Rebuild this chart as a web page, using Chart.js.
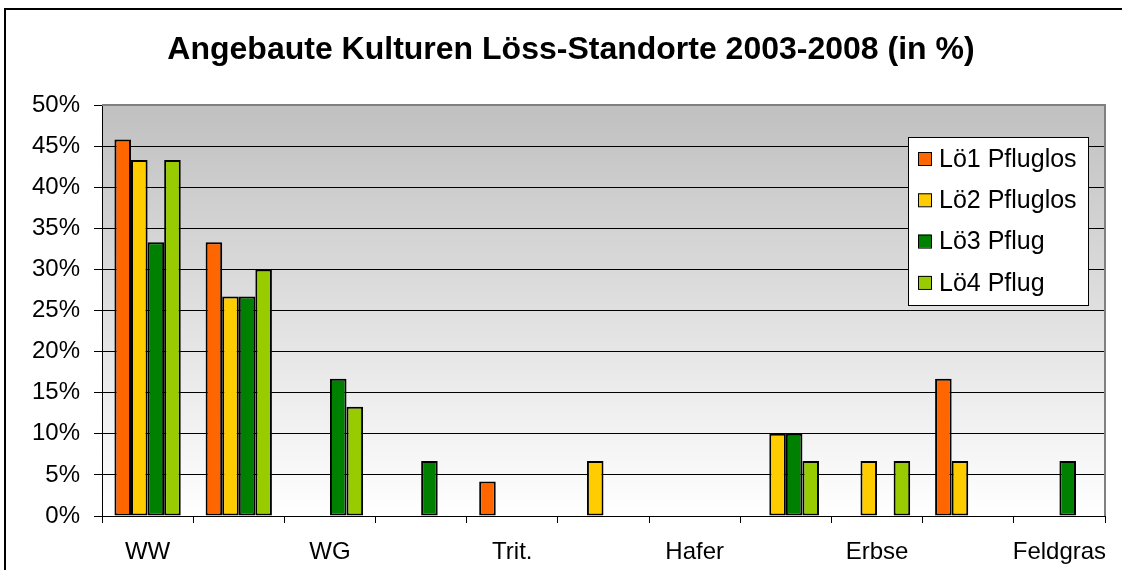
<!DOCTYPE html>
<html>
<head>
<meta charset="utf-8">
<script src="https://cdn.jsdelivr.net/npm/chart.js@4/dist/chart.umd.min.js"></script>
<style>
  body { margin: 0; background: #fff; }
  canvas { display: block; }
</style>
</head>
<body>
<canvas id="cropChart" width="1122" height="570"></canvas>
<script>
// categories (only every second label is shown in the original)
const categories = ['WW', '', 'WG', '', 'Trit.', '', 'Hafer', '', 'Erbse', '', 'Feldgras'];

// share of cultivated crops in %
const loe1Pfluglos = [45.8, 33.3, null, null, 4.2, null, null, null, null, 16.7, null];
const loe2Pfluglos = [43.3, 26.7, null, null, null, 6.7, null, 10.0, 6.7, 6.7, null];
const loe3Pflug    = [33.3, 26.7, 16.7, 6.7, null, null, null, 10.0, null, null, 6.7];
const loe4Pflug    = [43.3, 30.0, 13.3, null, null, null, null, 6.7, 6.7, null, null];

const yTicks = [0, 5, 10, 15, 20, 25, 30, 35, 40, 45, 50];

const titleText = 'Angebaute Kulturen Löss-Standorte 2003-2008 (in %)';
const fontFamily = '"Liberation Sans", Arial, sans-serif';

// background, frame, plot gradient, title and legend box
const excelLook = {
  id: 'excelLook',
  beforeDraw(chart) {
    const ctx = chart.ctx;
    const a = chart.chartArea;
    ctx.save();
    ctx.fillStyle = '#ffffff';
    ctx.fillRect(0, 0, chart.width, chart.height);
    // outer frame
    ctx.strokeStyle = '#000000';
    ctx.lineWidth = 2;
    ctx.beginPath();
    ctx.moveTo(5, chart.height);
    ctx.lineTo(5, 9);
    ctx.lineTo(chart.width, 9);
    ctx.stroke();
    // plot area gradient
    const grad = ctx.createLinearGradient(0, a.top, 0, a.bottom);
    grad.addColorStop(0, '#c0c0c0');
    grad.addColorStop(1, '#ffffff');
    ctx.fillStyle = grad;
    ctx.fillRect(a.left, a.top, a.right - a.left, a.bottom - a.top);
    // title
    ctx.fillStyle = '#000000';
    ctx.font = 'bold 32px ' + fontFamily;
    ctx.textAlign = 'center';
    ctx.textBaseline = 'middle';
    ctx.fillText(titleText, 571, 50);
    ctx.restore();
  },
  beforeDatasetsDraw(chart) {
    const ctx = chart.ctx;
    const a = chart.chartArea;
    ctx.save();
    ctx.strokeStyle = '#808080';
    ctx.lineWidth = 2;
    ctx.beginPath();
    ctx.moveTo(a.left, a.top);
    ctx.lineTo(a.right, a.top);
    ctx.lineTo(a.right, a.bottom);
    ctx.stroke();
    ctx.restore();
  },
  afterDraw(chart) {
    const ctx = chart.ctx;
    ctx.save();
    const bx = 908, by = 137, bw = 180, bh = 168;
    ctx.fillStyle = '#ffffff';
    ctx.fillRect(bx, by, bw, bh);
    ctx.strokeStyle = '#000000';
    ctx.lineWidth = 1;
    ctx.strokeRect(bx + 0.5, by + 0.5, bw, bh);
    ctx.font = '25px ' + fontFamily;
    ctx.textAlign = 'left';
    ctx.textBaseline = 'middle';
    chart.data.datasets.forEach((ds, i) => {
      const cy = 159 + i * 41.3;
      ctx.fillStyle = ds.backgroundColor;
      ctx.fillRect(918, cy - 7, 13, 13);
      ctx.strokeRect(918.5, cy - 6.5, 13, 13);
      ctx.fillStyle = '#000000';
      ctx.fillText(ds.label, 939, cy + 1);
    });
    ctx.restore();
  }
};

const barStyle = { borderColor: '#000000', borderWidth: 2, borderSkipped: false,
  categoryPercentage: 0.727, barPercentage: 1.0 };

new Chart(document.getElementById('cropChart'), {
  type: 'bar',
  data: {
    labels: categories,
    datasets: [
      { label: 'Lö1 Pfluglos', data: loe1Pfluglos, backgroundColor: '#ff6600', ...barStyle },
      { label: 'Lö2 Pfluglos', data: loe2Pfluglos, backgroundColor: '#ffcc00', ...barStyle },
      { label: 'Lö3 Pflug',    data: loe3Pflug,    backgroundColor: '#008000', ...barStyle },
      { label: 'Lö4 Pflug',    data: loe4Pflug,    backgroundColor: '#99cc00', ...barStyle }
    ]
  },
  options: {
    responsive: false,
    animation: false,
    layout: { padding: { top: 105, right: 17, bottom: 0, left: 0 } },
    plugins: {
      legend: { display: false },
      title: { display: false },
      tooltip: { enabled: false }
    },
    scales: {
      x: {
        grid: { display: true, drawOnChartArea: false, offset: true, color: '#000000', tickLength: 7 },
        border: { color: '#000000', width: 1 },
        ticks: {
          autoSkip: false, maxRotation: 0, color: '#000000', padding: 15,
          font: { family: fontFamily, size: 24 }
        },
        afterFit(scale) { scale.height = 54; }
      },
      y: {
        min: 0,
        max: 50,
        afterBuildTicks(scale) { scale.ticks = yTicks.map(v => ({ value: v })); },
        grid: { color: '#000000', lineWidth: 1, tickLength: 8 },
        border: { color: '#000000', width: 1 },
        ticks: {
          color: '#000000', padding: 14,
          font: { family: fontFamily, size: 24 },
          callback: v => v + '%'
        },
        afterFit(scale) { scale.width = 102; }
      }
    }
  },
  plugins: [excelLook]
});
</script>
</body>
</html>
